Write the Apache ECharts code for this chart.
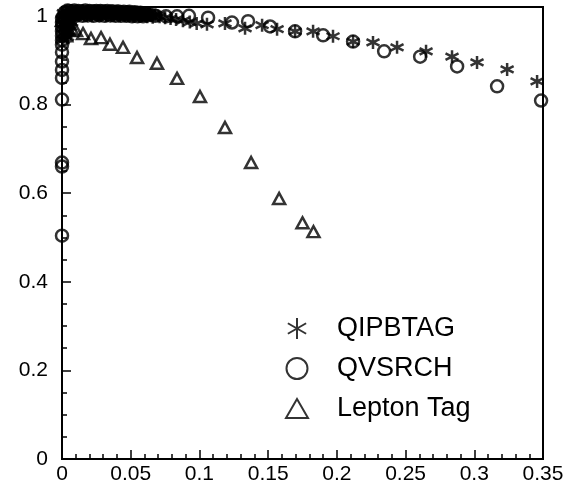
<!DOCTYPE html>
<html lang="en">
<head>
<meta charset="UTF-8">
<title>Tagging efficiency</title>
<script src="https://cdn.jsdelivr.net/npm/echarts@6/dist/echarts.min.js"></script>
<style>
    html, body { margin: 0; padding: 0; background: #fff; }
    #main { width: 572px; height: 491px; }
</style>
</head>
<body>
<div id="main"></div>
<script>
// axis ranges: [min, max, interval]
var xRange = [0, 0.35, 0.05];
var yRange = [0, 1.02, 0.2];

var seriesNames = ["QIPBTAG", "QVSRCH", "Lepton Tag"];

// QIPBTAG (stars)
var qipbtagPoints = [
    [0.000, 0.992], [0.001, 0.982], [0.002, 0.972], [0.003, 0.962], [0.004, 0.952],
    [0.005, 0.978], [0.006, 0.990], [0.002, 0.955], [0.004, 0.965], [0.006, 0.975],
    [0.007, 0.985], [0.001, 0.945],
    [0.001, 1.006], [0.003, 1.010], [0.005, 1.004], [0.007, 1.012], [0.009, 1.006],
    [0.011, 1.010], [0.013, 1.004], [0.015, 1.012], [0.017, 1.007], [0.019, 1.010],
    [0.021, 1.004], [0.023, 1.011], [0.025, 1.006], [0.027, 1.009], [0.029, 1.004],
    [0.031, 1.011], [0.033, 1.006], [0.035, 1.009], [0.037, 1.004], [0.039, 1.010],
    [0.041, 1.005], [0.043, 1.008], [0.045, 1.003], [0.047, 1.009], [0.049, 1.004],
    [0.051, 1.007], [0.053, 1.002], [0.055, 1.008], [0.057, 1.003], [0.059, 1.006],
    [0.061, 1.001], [0.063, 1.005], [0.065, 1.000],
    [0.002, 1.000], [0.004, 1.008], [0.006, 1.001], [0.008, 1.000], [0.010, 1.009],
    [0.012, 1.000], [0.014, 1.008], [0.016, 1.001], [0.018, 1.000], [0.020, 1.008],
    [0.022, 1.000], [0.024, 1.009], [0.026, 1.001], [0.028, 1.000], [0.030, 1.008],
    [0.032, 1.000], [0.034, 1.009], [0.036, 1.000], [0.038, 1.001], [0.040, 1.008],
    [0.042, 1.000], [0.044, 1.007], [0.046, 1.000], [0.048, 1.001], [0.050, 1.007],
    [0.052, 0.999], [0.054, 1.006], [0.056, 0.999], [0.058, 1.000], [0.060, 1.005],
    [0.062, 0.998], [0.064, 1.003], [0.066, 0.997], [0.070, 1.000],
    [0.068, 1.002], [0.071, 0.998], [0.075, 0.996], [0.079, 0.994], [0.083, 0.992],
    [0.088, 0.989], [0.093, 0.986], [0.098, 0.983],
    [0.1055, 0.981], [0.1186, 0.983], [0.1332, 0.972], [0.1456, 0.979], [0.1565, 0.970],
    [0.1696, 0.965], [0.1827, 0.965], [0.1972, 0.954], [0.2118, 0.942], [0.2263, 0.940],
    [0.2438, 0.929], [0.2649, 0.920], [0.2838, 0.908], [0.302, 0.895], [0.3239, 0.879],
    [0.3457, 0.852]
];

// QVSRCH (circles)
var qvsrchPoints = [
    [0, 0.995], [0, 0.985], [0, 0.975], [0, 0.965], [0, 0.955], [0, 0.945],
    [0, 0.935], [0, 0.918], [0, 0.897], [0, 0.878], [0, 0.860], [0, 0.811],
    [0, 0.669], [0, 0.660], [0, 0.504],
    [0.002, 0.990], [0.004, 0.985], [0.003, 0.975],
    [0.002, 1.008], [0.004, 1.012], [0.006, 1.005], [0.008, 1.010], [0.010, 1.004],
    [0.012, 1.011], [0.014, 1.006], [0.016, 1.009], [0.018, 1.004], [0.020, 1.011],
    [0.022, 1.007], [0.024, 1.010], [0.026, 1.004], [0.028, 1.011], [0.030, 1.006],
    [0.032, 1.009], [0.034, 1.004], [0.036, 1.010], [0.038, 1.006], [0.040, 1.009],
    [0.042, 1.004], [0.044, 1.008], [0.046, 1.005], [0.048, 1.008], [0.050, 1.003],
    [0.052, 1.007], [0.054, 1.004], [0.056, 1.006], [0.058, 1.002], [0.060, 1.005],
    [0.062, 1.001], [0.064, 1.003],
    [0.001, 0.998], [0.003, 1.001], [0.005, 1.011], [0.007, 1.000], [0.009, 1.012],
    [0.011, 1.001], [0.013, 1.010], [0.015, 1.000], [0.017, 1.012], [0.019, 1.001],
    [0.021, 1.010], [0.023, 1.000], [0.025, 1.011], [0.027, 1.001], [0.029, 1.010],
    [0.031, 1.000], [0.033, 1.011], [0.035, 1.001], [0.037, 1.010], [0.039, 1.000],
    [0.041, 1.010], [0.043, 1.000], [0.045, 1.009], [0.047, 1.000], [0.049, 1.009],
    [0.051, 0.999], [0.053, 1.008], [0.055, 0.999], [0.057, 1.007], [0.059, 0.999],
    [0.061, 1.006],
    [0.0677, 1.000], [0.0757, 0.999], [0.0837, 0.999], [0.0924, 1.000], [0.1063, 0.996],
    [0.1237, 0.985], [0.1354, 0.988], [0.1514, 0.976], [0.1696, 0.965], [0.190, 0.956],
    [0.2118, 0.942], [0.2344, 0.920], [0.2606, 0.908], [0.2875, 0.886], [0.3166, 0.841],
    [0.3486, 0.809]
];

// Lepton Tag (triangles)
var leptonPoints = [
    [0.000, 0.990], [0.001, 0.978], [0.002, 0.965], [0.003, 0.955], [0.004, 0.985],
    [0.005, 0.968], [0.007, 0.972], [0.0102, 0.967], [0.0153, 0.960], [0.0211, 0.949],
    [0.0284, 0.951], [0.0349, 0.936], [0.0444, 0.929], [0.0546, 0.906], [0.0691, 0.893],
    [0.0837, 0.859], [0.1004, 0.818], [0.1186, 0.748], [0.1376, 0.669], [0.158, 0.588],
    [0.175, 0.533], [0.183, 0.513]
];

var starPath = "path://M0,-10L0,10M-8.7,-5L8.7,5M-8.7,5L8.7,-5";
var trianglePath = "path://M0,-8.66L10,8.66L-10,8.66Z";
var fontName = "Liberation Sans";

var hollow = { color: "transparent", borderColor: "#000", borderWidth: 2.5 };

var MyChart = echarts.init(document.getElementById("main"));
var option = {
    animation: false,
    backgroundColor: "#fff",
    grid: {
        left: 62, right: 29, top: 7, bottom: 32,
        show: true, borderColor: "#000", borderWidth: 2
    },
    legend: {
        orient: "vertical",
        left: 280, top: 310,
        itemWidth: 22, itemHeight: 21, itemGap: 13,
        itemStyle: { color: "transparent", borderColor: "#000", borderWidth: 2 },
        textStyle: { color: "#000", fontSize: 27, fontFamily: fontName, padding: [0, 0, 0, 24] },
        data: [
            { name: seriesNames[0], icon: starPath },
            { name: seriesNames[1], icon: "circle" },
            { name: seriesNames[2], icon: trianglePath }
        ]
    },
    xAxis: {
        type: "value",
        min: xRange[0], max: xRange[1], interval: xRange[2],
        axisLine: { lineStyle: { color: "#000", width: 2 } },
        axisTick: { inside: true, length: 9, lineStyle: { color: "#000", width: 1.5 } },
        minorTick: { show: true, splitNumber: 5, length: 5, lineStyle: { color: "#000", width: 1.5 } },
        splitLine: { show: false },
        axisLabel: { color: "#000", fontSize: 21, fontFamily: fontName, margin: 5 }
    },
    yAxis: {
        type: "value",
        min: yRange[0], max: yRange[1], interval: yRange[2],
        axisLine: { lineStyle: { color: "#000", width: 2 } },
        axisTick: { inside: true, length: 9, lineStyle: { color: "#000", width: 1.5 } },
        minorTick: { show: true, splitNumber: 4, length: 5, lineStyle: { color: "#000", width: 1.5 } },
        splitLine: { show: false },
        axisLabel: { color: "#000", fontSize: 21, fontFamily: fontName, margin: 14, showMaxLabel: false }
    },
    series: [{
        name: seriesNames[0],
        type: "scatter",
        clip: false,
        symbol: starPath,
        symbolSize: 13,
        itemStyle: hollow,
        data: qipbtagPoints
    }, {
        name: seriesNames[1],
        type: "scatter",
        clip: false,
        symbol: "circle",
        symbolSize: 12,
        itemStyle: hollow,
        data: qvsrchPoints
    }, {
        name: seriesNames[2],
        type: "scatter",
        clip: false,
        symbol: trianglePath,
        symbolSize: [12, 11],
        itemStyle: hollow,
        data: leptonPoints
    }]
};
MyChart.setOption(option);
</script>
</body>
</html>
